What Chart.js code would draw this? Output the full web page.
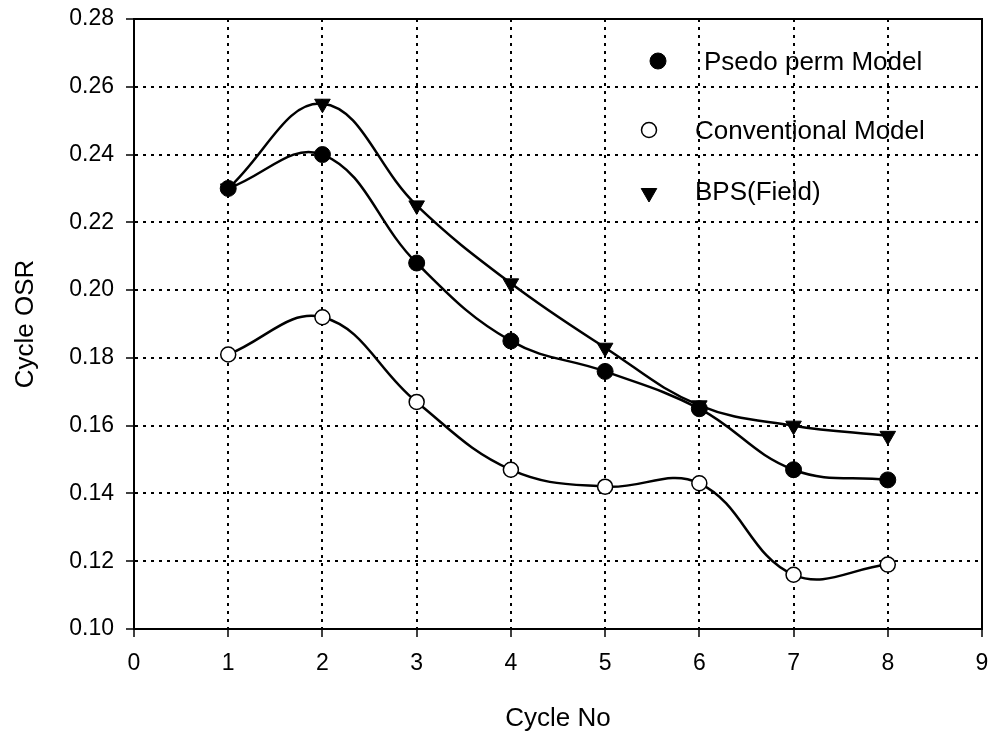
<!DOCTYPE html>
<html><head><meta charset="utf-8">
<script src="https://cdn.jsdelivr.net/npm/chart.js@4/dist/chart.umd.min.js"></script>
<style>html,body{margin:0;padding:0;background:#fff;}canvas{display:block;}</style>
</head><body>
<canvas id="c" width="992" height="736"></canvas>
<script>
const cycles = [1, 2, 3, 4, 5, 6, 7, 8];
const psedoPerm = [0.230, 0.240, 0.208, 0.185, 0.176, 0.165, 0.147, 0.144];
const conventional = [0.181, 0.192, 0.167, 0.147, 0.142, 0.143, 0.116, 0.119];
const bpsField = [0.230, 0.255, 0.225, 0.202, 0.183, 0.166, 0.160, 0.157];
const xTicks = [0, 1, 2, 3, 4, 5, 6, 7, 8, 9];
const yTicks = [0.10, 0.12, 0.14, 0.16, 0.18, 0.20, 0.22, 0.24, 0.26, 0.28];
const seriesNames = ['Psedo perm Model', 'Conventional Model', 'BPS(Field)'];
const xTitle = 'Cycle No';
const yTitle = 'Cycle OSR';

const FONT = "'Liberation Sans', Arial, sans-serif";
const toPts = arr => cycles.map((c, i) => ({x: c, y: arr[i]}));

const frame = {
  id: 'frame',
  afterDraw(chart) {
    const {ctx, chartArea: a} = chart;
    ctx.save();
    ctx.strokeStyle = '#000';
    ctx.lineWidth = 2;
    ctx.setLineDash([]);
    ctx.beginPath();
    ctx.moveTo(a.left, a.top); ctx.lineTo(a.right, a.top); ctx.lineTo(a.right, a.bottom);
    ctx.stroke();
    // legend inside plot
    const items = [
      {mx: 658, my: 61, tx: 704, ty: 63},
      {mx: 649, my: 130, tx: 695, ty: 132},
      {mx: 649, my: 193, tx: 695, ty: 193}
    ];
    ctx.font = "26px " + FONT;
    ctx.textBaseline = 'middle';
    ctx.textAlign = 'left';
    chart.data.datasets.forEach((ds, i) => {
      const it = items[i];
      ctx.fillStyle = ds.pointBackgroundColor;
      ctx.strokeStyle = ds.pointBorderColor;
      ctx.lineWidth = ds.pointBorderWidth;
      Chart.helpers.drawPoint(ctx, {pointStyle: ds.pointStyle, rotation: ds.pointRotation, radius: ds.pointRadius, borderWidth: ds.pointBorderWidth}, it.mx, it.my);
      ctx.fillStyle = '#000';
      ctx.fillText(ds.label, it.tx, it.ty);
    });
    ctx.restore();
  }
};

const common = {borderColor: '#000', borderWidth: 2.5, tension: 0.4, fill: false, pointBorderColor: '#000'};
const gridOpts = {color: '#000', lineWidth: 2, tickLength: 8, tickColor: '#000', tickWidth: 1.5, tickBorderDash: []};
const borderOpts = {display: true, color: '#000', width: 2, dash: [3, 5]};

new Chart(document.getElementById('c'), {
  type: 'line',
  data: {
    datasets: [
      Object.assign({}, common, {label: seriesNames[0], data: toPts(psedoPerm), pointStyle: 'circle', pointRadius: 8, pointBackgroundColor: '#000', pointBorderWidth: 1, pointRotation: 0}),
      Object.assign({}, common, {label: seriesNames[1], data: toPts(conventional), pointStyle: 'circle', pointRadius: 7.5, pointBackgroundColor: '#fff', pointBorderWidth: 1.5, pointRotation: 0}),
      Object.assign({}, common, {label: seriesNames[2], data: toPts(bpsField), pointStyle: 'triangle', pointRadius: 9, pointBackgroundColor: '#000', pointBorderWidth: 1, pointRotation: 180})
    ]
  },
  options: {
    responsive: false,
    animation: false,
    devicePixelRatio: 1,
    layout: {padding: {left: 0, right: 9, top: 19, bottom: 0}},
    plugins: {legend: {display: false}, tooltip: {enabled: false}},
    scales: {
      x: {
        type: 'linear', min: 0, max: 9,
        afterFit: s => { s.height = 107; s.paddingLeft = 0; s.paddingRight = 0; s.paddingTop = 0; s.paddingBottom = 0; },
        afterBuildTicks: s => { s.ticks = xTicks.map(v => ({value: v})); },
        grid: gridOpts,
        border: borderOpts,
        ticks: {color: '#000', font: {family: FONT, size: 23}, padding: 13, maxRotation: 0, callback: v => String(v)},
        title: {display: true, text: xTitle, color: '#000', font: {family: FONT, size: 26}, padding: {top: 0, bottom: 2}}
      },
      y: {
        type: 'linear', min: 0.10, max: 0.28,
        afterFit: s => { s.width = 134; s.paddingLeft = 0; s.paddingRight = 0; s.paddingTop = 0; s.paddingBottom = 0; },
        afterBuildTicks: s => { s.ticks = yTicks.map(v => ({value: v})); },
        grid: gridOpts,
        border: borderOpts,
        ticks: {color: '#000', font: {family: FONT, size: 23}, padding: 12, callback: v => Number(v).toFixed(2)},
        title: {display: true, text: yTitle, color: '#000', font: {family: FONT, size: 26}, padding: {top: 10, bottom: 0}}
      }
    }
  },
  plugins: [frame]
});
</script>
</body></html>
